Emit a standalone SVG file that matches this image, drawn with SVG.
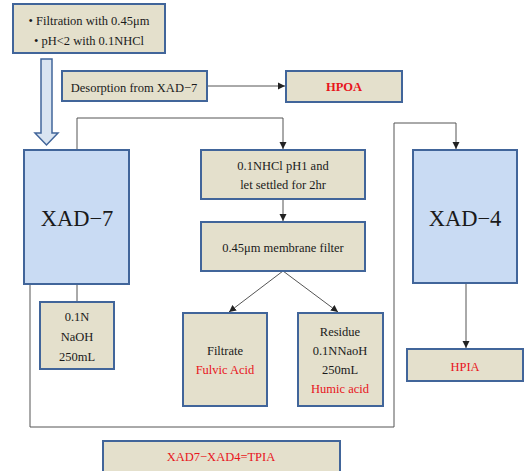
<svg xmlns="http://www.w3.org/2000/svg" width="524" height="471" viewBox="0 0 524 471">
<defs>
<style>
.b{fill:#E4E0CC;stroke:#41659A;stroke-width:2}
.x{fill:#C9DBF3;stroke:#41659A;stroke-width:2}
.t{font-family:"Liberation Serif",serif;font-size:12.5px;fill:#1a1a1a;text-anchor:middle;dominant-baseline:central}
.r{fill:#E8141B}
.big{font-size:22.5px}
.c{fill:none;stroke:#555;stroke-width:1}
</style>
<marker id="ah" markerWidth="8" markerHeight="8" refX="7" refY="4" orient="auto" markerUnits="userSpaceOnUse">
<path d="M0,0.5 L7,4 L0,7.5 Z" fill="#222"/>
</marker>
</defs>
<rect width="524" height="471" fill="#fff"/>
<g id="connectors">
<polygon points="41,59 52,59 52,133 58,133 46.5,145 35,133 41,133" fill="#D9E4F1" stroke="#41659A" stroke-width="1.5"/>
<path class="c" d="M207,86 H285" marker-end="url(#ah)"/>
<path class="c" d="M77,150 V118 H283 V149" marker-end="url(#ah)"/>
<path class="c" d="M283,199 V221" marker-end="url(#ah)"/>
<path class="c" d="M283,271 L229,312" marker-end="url(#ah)"/>
<path class="c" d="M283,271 L338,312" marker-end="url(#ah)"/>
<path class="c" d="M77,284 V302"/>
<path class="c" d="M30,284 V427 H394 V123 H456 V149" marker-end="url(#ah)"/>
<path class="c" d="M466,283 V348" marker-end="url(#ah)"/>
</g>
<g id="input">
<rect class="b" x="13" y="4" width="152" height="49"/>
<text class="t" x="89" y="21">• Filtration with 0.45μm</text>
<text class="t" x="89" y="41">• pH&lt;2 with 0.1NHCl</text>
</g>
<g id="desorption">
<rect class="b" x="62" y="71" width="145" height="30"/>
<text class="t" x="134" y="88">Desorption from XAD−7</text>
</g>
<g id="hpoa">
<rect class="b" x="286" y="71" width="116" height="31"/>
<text class="t r" x="344" y="87" font-weight="bold">HPOA</text>
</g>
<g id="xad7">
<rect class="x" x="24" y="150" width="105" height="134"/>
<text class="t big" x="77" y="218">XAD−7</text>
</g>
<g id="naoh">
<rect class="b" x="40" y="302" width="74" height="67"/>
<text class="t" x="77" y="317">0.1N</text>
<text class="t" x="77" y="337">NaOH</text>
<text class="t" x="77" y="357">250mL</text>
</g>
<g id="hcl">
<rect class="b" x="201" y="150" width="164" height="49"/>
<text class="t" x="283" y="166">0.1NHCl pH1 and</text>
<text class="t" x="283" y="185">let settled for 2hr</text>
</g>
<g id="membrane">
<rect class="b" x="201" y="222" width="164" height="49"/>
<text class="t" x="283" y="248">0.45μm membrane filter</text>
</g>
<g id="filtrate">
<rect class="b" x="183" y="313" width="84" height="93"/>
<text class="t" x="225" y="351">Filtrate</text>
<text class="t r" x="225" y="370">Fulvic Acid</text>
</g>
<g id="residue">
<rect class="b" x="298" y="313" width="85" height="93"/>
<text class="t" x="340" y="332">Residue</text>
<text class="t" x="340" y="351">0.1NNaoH</text>
<text class="t" x="340" y="370">250mL</text>
<text class="t r" x="340" y="389">Humic acid</text>
</g>
<g id="xad4">
<rect class="x" x="413" y="150" width="104" height="133"/>
<text class="t big" x="465" y="218">XAD−4</text>
</g>
<g id="hpia">
<rect class="b" x="407" y="349" width="116" height="32"/>
<text class="t r" x="465" y="367" font-size="11">HPIA</text>
</g>
<g id="tpia">
<rect class="b" x="103" y="441" width="237" height="36"/>
<text class="t r" x="221" y="457">XAD7−XAD4=TPIA</text>
</g>
</svg>
